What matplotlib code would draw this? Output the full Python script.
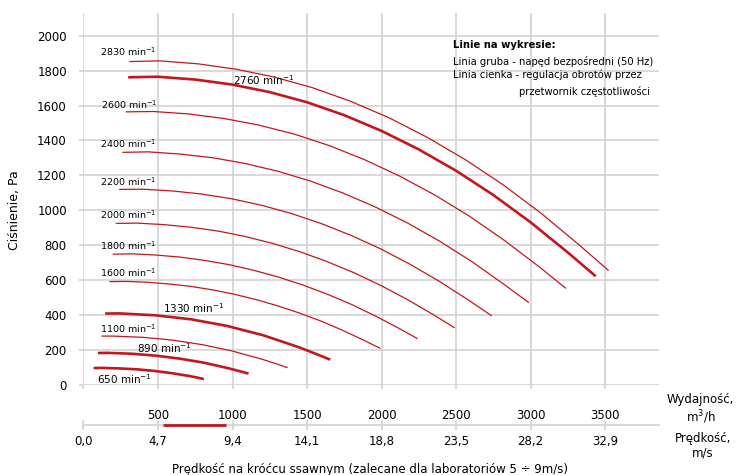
import matplotlib.pyplot as plt
import numpy as np

plt.rcParams['font.family'] = ['DejaVu Sans']

RED = '#c4161c'
GRID = '#d0d0d0'

# axes
flow_ticks = [0, 500, 1000, 1500, 2000, 2500, 3000, 3500]
flow_labels = ['', '500', '1000', '1500', '2000', '2500', '3000', '3500']
speed_ticks = [0.0, 4.7, 9.4, 14.1, 18.8, 23.5, 28.2, 32.9]
speed_labels = ['0,0', '4,7', '9,4', '14,1', '18,8', '23,5', '28,2', '32,9']
pressure_ticks = [0, 200, 400, 600, 800, 1000, 1200, 1400, 1600, 1800, 2000]
lab_speed = [5, 9]  # zalecane dla laboratoriów, m/s

# fan curves: flow m3/h, pressure Pa
q_2830 = [308, 513, 769, 1025, 1282, 1538, 1794, 2051, 2307, 2563, 2820, 3076, 3332, 3524]
p_2830 = [1852, 1856, 1839, 1808, 1763, 1702, 1624, 1530, 1418, 1290, 1144, 980, 798, 655]
q_2760 = [300, 500, 750, 1000, 1250, 1500, 1750, 2000, 2250, 2500, 2750, 3000, 3250, 3437]
p_2760 = [1762, 1765, 1749, 1720, 1677, 1619, 1545, 1455, 1349, 1227, 1088, 932, 759, 623]
q_2600 = [283, 471, 706, 942, 1178, 1413, 1649, 1884, 2120, 2355, 2591, 2826, 3062, 3238]
p_2600 = [1564, 1566, 1552, 1526, 1488, 1437, 1371, 1291, 1197, 1089, 966, 827, 674, 553]
q_2400 = [261, 435, 652, 870, 1087, 1304, 1522, 1739, 1957, 2174, 2391, 2609, 2826, 2989]
p_2400 = [1332, 1335, 1322, 1301, 1268, 1224, 1168, 1100, 1020, 928, 823, 705, 574, 471]
q_2200 = [239, 399, 598, 797, 996, 1196, 1395, 1594, 1794, 1993, 2192, 2391, 2591, 2740]
p_2200 = [1120, 1121, 1111, 1093, 1066, 1029, 982, 925, 857, 780, 691, 592, 482, 396]
q_2000 = [217, 362, 544, 725, 906, 1087, 1268, 1449, 1630, 1812, 1993, 2174, 2355, 2491]
p_2000 = [925, 927, 918, 903, 881, 850, 811, 764, 708, 644, 571, 489, 399, 327]
q_1800 = [196, 326, 489, 652, 815, 978, 1141, 1304, 1467, 1630, 1794, 1957, 2120, 2242]
p_1800 = [749, 751, 744, 732, 713, 689, 657, 619, 574, 522, 463, 396, 323, 265]
q_1600 = [174, 290, 435, 580, 725, 870, 1015, 1159, 1304, 1449, 1594, 1739, 1884, 1993]
p_1600 = [592, 593, 588, 578, 564, 544, 519, 489, 453, 412, 366, 313, 255, 209]
q_1330 = [145, 241, 482, 723, 964, 1205, 1446, 1566, 1656]
p_1330 = [409, 410, 399, 376, 338, 285, 216, 176, 145]
q_1100 = [120, 199, 399, 598, 797, 996, 1196, 1295, 1370]
p_1100 = [280, 280, 273, 257, 231, 195, 148, 121, 99]
q_890 = [97, 161, 323, 484, 645, 806, 967, 1048, 1108]
p_890 = [183, 184, 179, 168, 151, 128, 97, 79, 65]
q_650 = [68, 118, 236, 353, 471, 589, 707, 765, 808]
p_650 = [97, 98, 95, 90, 81, 68, 52, 42, 34]

curves = [
    (2830, q_2830, p_2830), (2760, q_2760, p_2760), (2600, q_2600, p_2600),
    (2400, q_2400, p_2400), (2200, q_2200, p_2200), (2000, q_2000, p_2000),
    (1800, q_1800, p_1800), (1600, q_1600, p_1600), (1330, q_1330, p_1330),
    (1100, q_1100, p_1100), (890, q_890, p_890), (650, q_650, p_650),
]
thick_rpm = [2760, 1330, 890, 650]  # napęd bezpośredni (50 Hz)

# where the rpm labels sit (data coords)
label_pos = {
    2830: (111, 1908), 2760: (1003, 1748), 2600: (118, 1605), 2400: (111, 1381),
    2200: (111, 1163), 2000: (111, 974), 1800: (111, 797), 1600: (111, 642),
    1330: (534, 441), 1100: (111, 321), 890: (359, 212), 650: (91, 34),
}

fig = plt.figure(figsize=(7.36, 4.75), dpi=100)
ax = fig.add_axes([0.11345, 0.1895, 0.7823, 0.7831])
XMAX = 3864

for rpm, q, p in curves:
    thick = rpm in thick_rpm
    ax.plot(q, p, color=RED, lw=1.9 if thick else 0.9, solid_capstyle='butt')
    x, y = label_pos[rpm]
    ax.text(x, y, f'{rpm} min$^{{-1}}$', fontsize=7.5 if thick else 6.8,
            va='center', ha='left')

ax.set_xlim(0, XMAX)
ax.set_ylim(0, 2130)
ax.set_xticks(flow_ticks)
ax.set_xticklabels([])
ax.set_yticks(pressure_ticks)
ax.set_yticklabels([str(v) for v in pressure_ticks], fontsize=8.5)
ax.grid(True, color=GRID, lw=1.1)
ax.set_axisbelow(True)
for s in ax.spines.values():
    s.set_visible(False)
ax.tick_params(axis='x', length=3, width=1.1, color=GRID)
ax.tick_params(axis='y', length=3, width=1.1, color=GRID, pad=9)

# text box with the line explanation
fs_note = 7.2
fig.text(0.6155, 0.9053, 'Linie na wykresie:', fontsize=fs_note, fontweight='bold', va='center')
fig.text(0.6155, 0.8701, 'Linia gruba - napęd bezpośredni (50 Hz)', fontsize=fs_note, va='center')
fig.text(0.6155, 0.8421, 'Linia cienka - regulacja obrotów przez', fontsize=fs_note, va='center')
fig.text(0.8832, 0.8070, 'przetwornik częstotliwości', fontsize=fs_note, va='center', ha='right')

fig.text(0.020, 0.558, 'Ciśnienie, Pa', rotation=90, ha='center', va='center', fontsize=9)

# bottom scale: flow above the line, speed below
ax2 = fig.add_axes([0.11345, 0.10526, 0.7823, 0.0001])
ax2.set_xlim(0, XMAX)
ax2.set_ylim(-1, 1)
ax2.set_yticks([])
for s in ['top', 'left', 'right']:
    ax2.spines[s].set_visible(False)
ax2.spines['bottom'].set_color(GRID)
ax2.spines['bottom'].set_linewidth(1.1)
ax2.set_xticks(flow_ticks)
ax2.set_xticklabels(speed_labels, fontsize=8.5)
ax2.tick_params(axis='x', direction='inout', length=7, width=1.1, color=GRID, pad=4)
ax2.patch.set_visible(False)

lab_flow = np.interp(lab_speed, speed_ticks, flow_ticks)
ax2.plot(lab_flow, [-1, -1], color=RED, lw=2.0, solid_capstyle='butt',
         clip_on=False, zorder=5)

ax3 = ax2.twiny()
ax3.set_xlim(0, XMAX)
ax3.set_xticks(flow_ticks)
ax3.set_xticklabels(flow_labels, fontsize=8.5)
ax3.tick_params(axis='x', length=0, pad=2)
for s in ax3.spines.values():
    s.set_visible(False)

fig.text(0.952, 0.138, 'Wydajność,\nm$^3$/h', ha='center', va='center', fontsize=8.5, linespacing=1.15)
fig.text(0.955, 0.0615, 'Prędkość,\nm/s', ha='center', va='center', fontsize=8.5, linespacing=1.2)

fig.text(0.5027, 0.0126, 'Prędkość na króćcu ssawnym (zalecane dla laboratoriów 5 ÷ 9m/s)',
         ha='center', va='center', fontsize=8.5)

fig.savefig('out.png', dpi=100)
